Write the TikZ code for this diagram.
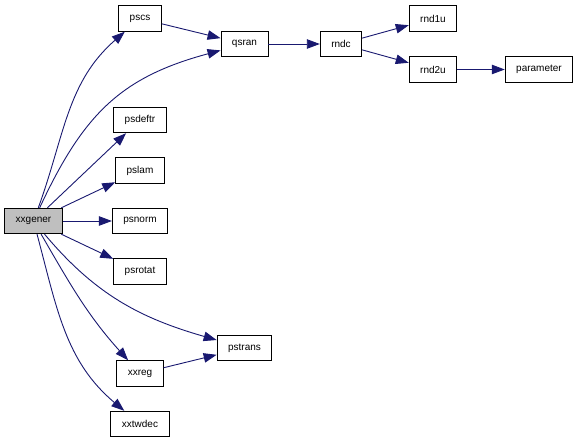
\documentclass[tikz,border=0pt]{standalone}
\usepackage{fontspec}
\setmainfont{Liberation Sans}
\usetikzlibrary{arrows.meta,positioning}
\definecolor{edgeblue}{RGB}{25,25,112}
\tikzset{func/.style={draw,rectangle,fill=white,line width=0.9pt,minimum height=25.5pt,inner xsep=11pt,inner ysep=2pt,font=\fontsize{10}{12}\selectfont}}
\tikzset{root/.style={func,fill=black!25}}
\tikzset{call/.style={draw=edgeblue,line width=0.9pt,-{Triangle[length=13pt,width=9.5pt]}}}

\begin{document}
\begin{tikzpicture}[x=1pt,y=1pt,node distance=50.5pt]
    \useasboundingbox (0,0) rectangle (579,-443);

    \node[root] (xxgener) at (33.5,-221) {xxgener};
    \node[func,right of=xxgener,node distance=106.5pt] (psnorm) {psnorm};
    \node[func,above of=psnorm] (pslam) {pslam};
    \node[func,above of=pslam] (psdeftr) {psdeftr};
    \node[func,below of=psnorm] (psrotat) {psrotat};
    \node[func,above of=psdeftr,node distance=101.5pt] (pscs) {pscs};
    \node[func,below of=psrotat,node distance=102pt] (xxreg) {xxreg};
    \node[func,below of=xxreg] (xxtwdec) {xxtwdec};

    \node[func] (qsran) at (244.5,-44) {qsran};
    \node[func] (pstrans) at (244.5,-348) {pstrans};
    \node[func,right of=qsran,node distance=96.5pt] (rndc) {rndc};
    \node[func] (rnd1u) at (433,-18.5) {rnd1u};
    \node[func,below of=rnd1u,node distance=51pt] (rnd2u) {rnd2u};
    \node[func,right of=rnd2u,node distance=106pt] (parameter) {parameter};

        \path[call] (xxgener) to[out=70,in=-139] (pscs);
        \path[call] (xxgener) to[out=65,in=195,looseness=1.1] (qsran);
        \path[call] (xxgener) -- (psdeftr);
        \path[call] (xxgener) -- (pslam);
        \path[call] (xxgener) -- (psnorm);
        \path[call] (xxgener) -- (psrotat);
        \path[call] (xxgener) to[out=-50,in=164] (pstrans);
        \path[call] (xxgener) to[out=-60,in=132] (xxreg);
        \path[call] (xxgener) to[out=-75,in=140] (xxtwdec);
        \path[call] (xxreg) -- (pstrans);
        \path[call] (pscs) -- (qsran);
        \path[call] (qsran) -- (rndc);
        \path[call] (rndc) -- (rnd1u);
        \path[call] (rndc) -- (rnd2u);
        \path[call] (rnd2u) -- (parameter);
\end{tikzpicture}
\end{document}
